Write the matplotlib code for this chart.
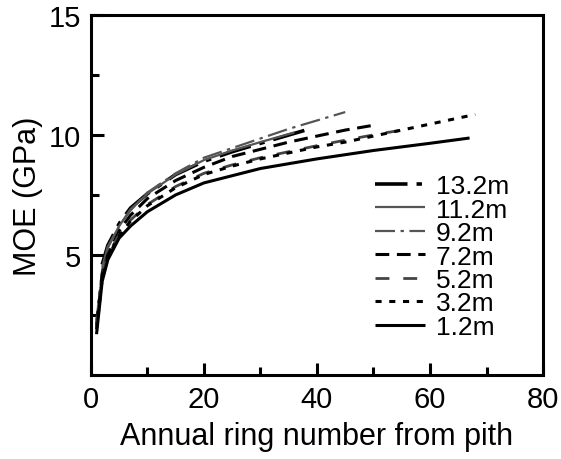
import matplotlib
matplotlib.use("Agg")
import matplotlib.pyplot as plt
from matplotlib.ticker import MultipleLocator

plt.rcParams['font.family'] = ['Liberation Sans', 'DejaVu Sans']

# MOE (GPa) against annual ring number, one series per sampling height
labels = ["13.2m", "11.2m", "9.2m", "7.2m", "5.2m", "3.2m", "1.2m"]

ring_132 = [2, 3, 5, 7, 10, 15, 20, 25, 30, 38]
moe_132 = [4.6, 5.4, 6.3, 6.95, 7.55, 8.35, 8.9, 9.3, 9.65, 10.2]

ring_112 = [2, 3, 5, 7, 10, 15, 20, 25, 30, 36]
moe_112 = [4.5, 5.35, 6.2, 6.9, 7.55, 8.35, 8.95, 9.35, 9.7, 10.1]

ring_92 = [1, 2, 3, 5, 7, 10, 15, 20, 25, 30, 35, 40, 45]
moe_92 = [2.3, 4.4, 5.3, 6.2, 6.85, 7.6, 8.4, 9.05, 9.45, 9.85, 10.25, 10.6, 10.95]

ring_72 = [1, 2, 3, 5, 7, 10, 15, 20, 25, 30, 35, 40, 45, 50]
moe_72 = [2.1, 4.2, 5.0, 6.0, 6.65, 7.35, 8.1, 8.65, 9.1, 9.4, 9.7, 9.95, 10.2, 10.4]

ring_52 = [1, 2, 3, 5, 7, 10, 15, 20, 25, 30, 35, 40, 45, 50, 55]
moe_52 = [2.0, 4.1, 5.0, 5.85, 6.45, 7.1, 7.85, 8.4, 8.75, 9.05, 9.3, 9.55, 9.78, 10.0, 10.2]

ring_32 = [1, 2, 3, 5, 7, 10, 15, 20, 25, 30, 35, 40, 45, 50, 55, 60, 68]
moe_32 = [1.9, 4.0, 4.9, 5.8, 6.4, 7.05, 7.8, 8.35, 8.7, 9.0, 9.25, 9.5, 9.7, 9.95, 10.2, 10.45, 10.85]

ring_12 = [1, 2, 3, 5, 7, 10, 15, 20, 30, 40, 50, 60, 67]
moe_12 = [1.7, 3.9, 4.8, 5.7, 6.2, 6.8, 7.5, 8.0, 8.6, 9.0, 9.35, 9.65, 9.87]

series = [
    (ring_132, moe_132, dict(color="black", lw=2.6, dashes=(9, 2.5, 1.5, 2.5))),
    (ring_112, moe_112, dict(color="#555555", lw=1.6, linestyle="-")),
    (ring_92, moe_92, dict(color="#555555", lw=1.6, dashes=(9, 2.5, 1.5, 2.5))),
    (ring_72, moe_72, dict(color="black", lw=2.2, dashes=(4.5, 2.5))),
    (ring_52, moe_52, dict(color="#444444", lw=2.0, dashes=(5, 5))),
    (ring_32, moe_32, dict(color="black", lw=2.2, dashes=(2, 2.5))),
    (ring_12, moe_12, dict(color="black", lw=2.2, linestyle="-")),
]

fig = plt.figure(figsize=(5.61, 4.60), dpi=100)
ax = fig.add_axes([0.162, 0.1826, 0.806, 0.783])

for (r, m, style), lab in zip(series, labels):
    ax.plot(r, m, label=lab, solid_capstyle="butt", dash_capstyle="butt", **style)

ax.set_xlim(0, 80)
ax.set_ylim(0, 15)
ax.set_xticks([0, 20, 40, 60, 80])
ax.set_yticks([5, 10, 15])
ax.xaxis.set_minor_locator(MultipleLocator(10))
ax.yaxis.set_minor_locator(MultipleLocator(2.5))
ax.tick_params(which="major", direction="in", length=9, width=2.2, labelsize=21, pad=7)
ax.tick_params(which="minor", direction="in", length=5.5, width=2.2)
for s in ax.spines.values():
    s.set_linewidth(2.2)

ax.set_xlabel("Annual ring number from pith", fontsize=22, labelpad=6)
ax.set_ylabel("MOE (GPa)", fontsize=22, labelpad=4)

leg = ax.legend(loc="center left", bbox_to_anchor=(0.628, 0.329), frameon=False,
                fontsize=19, handlelength=1.9, handletextpad=0.4,
                labelspacing=-0.02, borderpad=0, borderaxespad=0)

fig.savefig("out.png", dpi=100)
